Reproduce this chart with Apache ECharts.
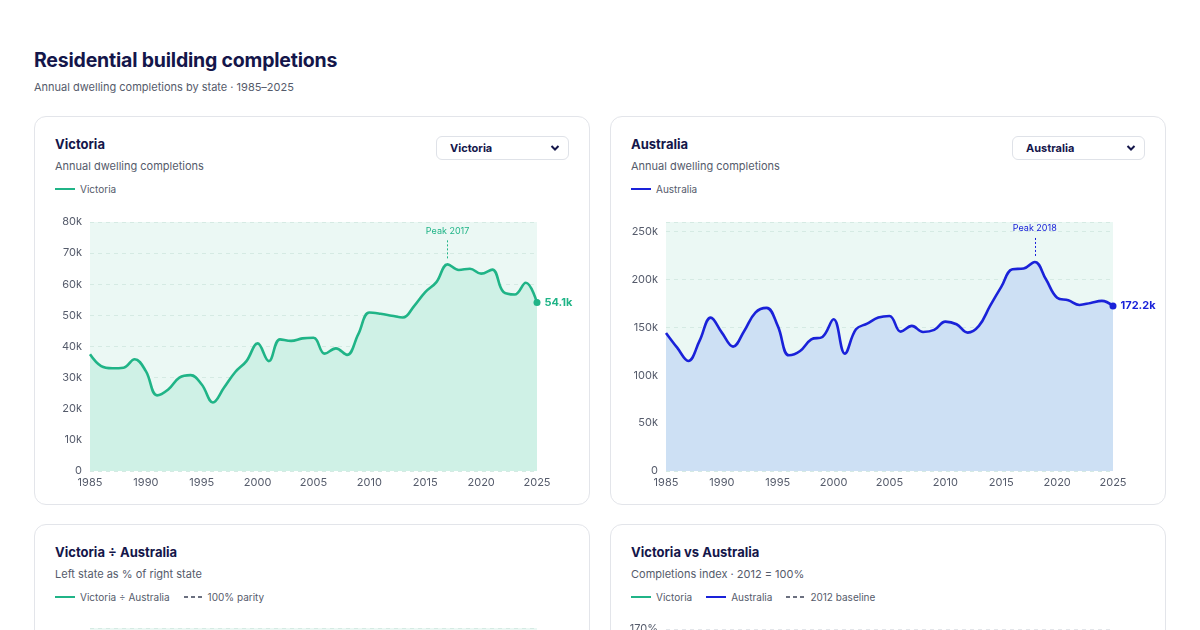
<!DOCTYPE html>
<html>
<head>
<meta charset="utf-8">
<script src="https://cdn.jsdelivr.net/npm/echarts@6/dist/echarts.min.js"></script>
<style>
  html, body { margin: 0; padding: 0; background: #fff; }
  body { width: 1200px; height: 630px; overflow: hidden; font-family: Inter, "Noto Sans", sans-serif; }
  .page { position: relative; padding: 0 35px 0 34px; }
  h1 { position: absolute; left: 34px; top: 48px; margin: 0; font-size: 19.5px; line-height: 24px; font-weight: 700; color: #14164a; letter-spacing: -0.2px; }
  .sub { position: absolute; left: 34px; top: 80px; margin: 0; font-size: 11px; line-height: 14px; color: #555b6b; }
  .card { position: absolute; width: 554px; height: 387px; border: 1px solid #e3e5ea; border-radius: 12px; background: #fff; }
  .card .t { position: absolute; left: 20px; top: 19px; font-size: 13px; line-height: 16px; font-weight: 700; color: #14164a; }
  .card .s { position: absolute; left: 20px; top: 42px; font-size: 11px; line-height: 14px; color: #555b6b; }
  .card .lg { position: absolute; left: 20px; top: 65px; font-size: 10px; line-height: 14px; color: #555b6b; display: flex; align-items: center; }
  .lg .it { display: flex; align-items: center; margin-right: 14px; }
  .lg .sw { width: 20px; height: 0; border-top: 2.5px solid; margin-right: 5px; }
  .lg svg { margin-right: 6px; }
  .dd { position: absolute; left: 401px; top: 19px; width: 131px; height: 22px; border: 1px solid #dfe2e8; border-radius: 6px; background: #fff; font-size: 11px; line-height: 22px; font-weight: 700; color: #14164a; }
  .dd span { position: absolute; left: 13px; }
  .dd svg { position: absolute; right: 8px; top: 7px; }
  .ch { position: absolute; left: 0; top: 90px; width: 554px; height: 290px; }
</style>
</head>
<body>
<div class="page">
  <h1>Residential building completions</h1>
  <p class="sub">Annual dwelling completions by state · 1985–2025</p>

  <div class="card" style="left:34px; top:116px;">
    <div class="t">Victoria</div>
    <div class="s">Annual dwelling completions</div>
    <div class="lg"><div class="it"><div class="sw" style="border-color:#20b487"></div>Victoria</div></div>
    <div class="dd"><span>Victoria</span><svg width="10" height="8" viewBox="0 0 10 8"><path d="M1.5 2 L5 5.5 L8.5 2" fill="none" stroke="#14164a" stroke-width="2"/></svg></div>
    <div class="ch" id="c1"></div>
  </div>

  <div class="card" style="left:610px; top:116px;">
    <div class="t">Australia</div>
    <div class="s">Annual dwelling completions</div>
    <div class="lg"><div class="it"><div class="sw" style="border-color:#1a22d9"></div>Australia</div></div>
    <div class="dd"><span>Australia</span><svg width="10" height="8" viewBox="0 0 10 8"><path d="M1.5 2 L5 5.5 L8.5 2" fill="none" stroke="#14164a" stroke-width="2"/></svg></div>
    <div class="ch" id="c2"></div>
  </div>

  <div class="card" style="left:34px; top:524px;">
    <div class="t">Victoria ÷ Australia</div>
    <div class="s">Left state as % of right state</div>
    <div class="lg"><div class="it"><div class="sw" style="border-color:#20b487"></div>Victoria ÷ Australia</div><div class="it"><svg width="18" height="4"><path d="M0 2 H18" stroke="#6b7080" stroke-width="2" stroke-dasharray="4 3"/></svg>100% parity</div></div>
    <div class="ch" id="c3"></div>
  </div>

  <div class="card" style="left:610px; top:524px;">
    <div class="t">Victoria vs Australia</div>
    <div class="s">Completions index · 2012 = 100%</div>
    <div class="lg"><div class="it"><div class="sw" style="border-color:#20b487"></div>Victoria</div><div class="it"><div class="sw" style="border-color:#1a22d9"></div>Australia</div><div class="it"><svg width="18" height="4"><path d="M0 2 H18" stroke="#6b7080" stroke-width="2" stroke-dasharray="4 3"/></svg>2012 baseline</div></div>
    <div class="ch" id="c4"></div>
  </div>
</div>

<script>
var years = [1985, 1986, 1987, 1988, 1989, 1990, 1991, 1992, 1993, 1994,
  1995, 1996, 1997, 1998, 1999, 2000, 2001, 2002, 2003, 2004,
  2005, 2006, 2007, 2008, 2009, 2010, 2011, 2012, 2013, 2014,
  2015, 2016, 2017, 2018, 2019, 2020, 2021, 2022, 2023, 2024, 2025];

var victoria = [37500, 33700, 33000, 33200, 35900, 32100, 24300, 26200, 30000, 30800,
  27800, 22000, 26800, 31800, 35300, 41000, 35300, 42300, 41800, 42600,
  42800, 37700, 39400, 37300, 43900, 50900, 50500, 49900, 49300, 53000,
  57500, 60700, 66400, 64600, 65000, 63400, 64700, 57500, 56700, 60500, 54100];

var australia = [144200, 128800, 114900, 135800, 160200, 144500, 129900, 146200, 165400, 170300,
  151500, 120800, 125300, 137500, 140000, 158400, 122600, 148000, 153900, 160200,
  161900, 145500, 151500, 145200, 147300, 156000, 153200, 144500, 151500, 172400,
  192200, 210700, 211400, 218300, 200200, 181000, 178300, 173400, 175500, 177600, 172200];

var baseYear = 2012;

var GREEN = '#20b487', BLUE = '#1a22d9', PLOT_BG = '#ebf8f4';

function kfmt(v) { return v === 0 ? '0' : (v / 1000) + 'k'; }

function baseOption(yAxis, top) {
  return {
    animation: false,
    textStyle: { fontFamily: 'Inter' },
    grid: { left: 55, right: 52, top: top, bottom: 26, show: true, backgroundColor: PLOT_BG, borderWidth: 0 },
    xAxis: {
      type: 'value', min: 1985, max: 2025, interval: 5,
      axisLine: { show: false }, axisTick: { show: false }, splitLine: { show: false },
      axisLabel: { color: '#555b6b', fontSize: 11, margin: 6, formatter: function (v) { return String(v); } }
    },
    yAxis: yAxis
  };
}

function levelChart(id, name, values, color, fill, max, interval) {
  var chart = echarts.init(document.getElementById(id));
  var pts = years.map(function (y, i) { return [y, values[i]]; });
  var peak = Math.max.apply(null, values);
  var peakYear = years[values.indexOf(peak)];
  var last = values[values.length - 1];
  var opt = baseOption({
    type: 'value', min: 0, max: max, interval: interval,
    axisLine: { show: false }, axisTick: { show: false },
    axisLabel: { color: '#555b6b', fontSize: 11, margin: 8, formatter: kfmt, showMaxLabel: max % interval === 0 },
    splitLine: { lineStyle: { color: '#d5eae3', type: [4, 4], width: 1 } }
  }, 15);
  opt.series = [{
    name: name, type: 'line', data: pts, smooth: 0.4, showSymbol: false,
    lineStyle: { color: color, width: 2.6 },
    areaStyle: { color: fill, opacity: 1 },
    markLine: {
      silent: true, symbol: 'none',
      lineStyle: { color: color, type: [2, 2], width: 1 },
      label: { show: true, position: 'end', distance: 4, color: color, fontSize: 9, formatter: 'Peak ' + peakYear },
      data: [[{ coord: [peakYear, peak + max * 0.024] }, { coord: [peakYear, peak + max * 0.1] }]]
    },
    markPoint: {
      silent: true, symbol: 'circle', symbolSize: 7,
      itemStyle: { color: color },
      label: { show: true, position: 'right', distance: 4, color: color, fontSize: 11, fontWeight: 700,
        formatter: (last / 1000).toFixed(1) + 'k' },
      data: [{ coord: [2025, last] }]
    }
  }];
  chart.setOption(opt);
}

levelChart('c1', 'Victoria', victoria, GREEN, '#cff1e6', 80000, 10000);
levelChart('c2', 'Australia', australia, BLUE, '#cde0f4', 260000, 50000);

// ratio chart: Victoria as % of Australia
var c3 = echarts.init(document.getElementById('c3'));
var ratio = years.map(function (y, i) { return [y, victoria[i] / australia[i] * 100]; });
var o3 = baseOption({
  type: 'value', min: 0, max: 110, interval: 10,
  axisLine: { show: false }, axisTick: { show: false },
  axisLabel: { color: '#555b6b', fontSize: 11, formatter: '{value}%', showMaxLabel: false },
  splitLine: { lineStyle: { color: '#d5eae3', type: [4, 4] } }
}, 13);
o3.series = [
  { type: 'line', data: ratio, smooth: 0.4, showSymbol: false, lineStyle: { color: GREEN, width: 2.6 }, areaStyle: { color: '#cff1e6', opacity: 1 } },
  { type: 'line', data: [[1985, 100], [2025, 100]], showSymbol: false, lineStyle: { color: '#6b7080', type: [4, 4], width: 1.5 } }
];
c3.setOption(o3);

// index chart: 2012 = 100%
var c4 = echarts.init(document.getElementById('c4'));
var bi = years.indexOf(baseYear);
var vicIdx = years.map(function (y, i) { return [y, victoria[i] / victoria[bi] * 100]; });
var ausIdx = years.map(function (y, i) { return [y, australia[i] / australia[bi] * 100]; });
var o4 = baseOption({
  type: 'value', min: 40, max: 170, interval: 10,
  axisLine: { show: false }, axisTick: { show: false },
  axisLabel: { color: '#555b6b', fontSize: 11, formatter: '{value}%' },
  splitLine: { lineStyle: { color: '#e3e6ea', type: [4, 4] } }
}, 14);
o4.grid.show = false;
o4.series = [
  { type: 'line', data: vicIdx, smooth: 0.4, showSymbol: false, lineStyle: { color: GREEN, width: 2.6 } },
  { type: 'line', data: ausIdx, smooth: 0.4, showSymbol: false, lineStyle: { color: BLUE, width: 2.6 } },
  { type: 'line', data: [[1985, 100], [2025, 100]], showSymbol: false, lineStyle: { color: '#6b7080', type: [4, 4], width: 1.5 } }
];
c4.setOption(o4);
</script>
</body>
</html>
